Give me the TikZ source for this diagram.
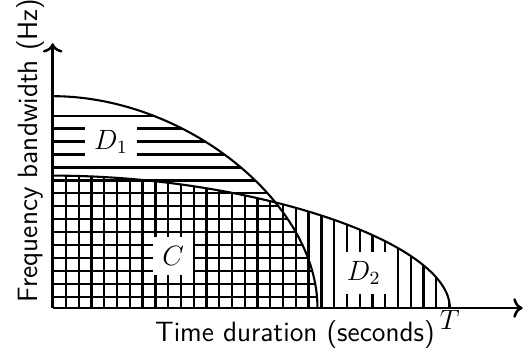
\documentclass[tikz,border=0pt]{standalone}
\usepackage{tikz}
\usetikzlibrary{arrows.meta, positioning}
\tikzset{
  font=\fontsize{12}{14.4}\selectfont,
  %
  axis/.style={line width=1.1pt, ->},
  bound/.style={line width=0.9pt},
  hatch/.style={line width=1pt},
  %
  region/.style={fill=white, inner sep=4pt},
  axislbl/.style={font=\fontsize{12}{14.4}\selectfont\sffamily},
}

\begin{document}
\begin{tikzpicture}[x=1cm, y=1cm]
\useasboundingbox (-0.796,-0.604) rectangle (7.12,4.653);

\def\aone{4}  \def\bone{3.2}
\def\atwo{6}  \def\btwo{2}

\coordinate (O) at (0,0);
\coordinate (ytop) at (0,4);
\coordinate (xend) at (7.1,0);
\coordinate (p1) at (0,\bone);
\coordinate (q1) at (\aone,0);
\coordinate (p2) at (0,\btwo);
\coordinate (q2) at (\atwo,0);

% horizontal hatching below the first bound
\begin{scope}
  \clip (O) -- (p1) .. controls (\aone/2,\bone) and (\aone,\bone/2) .. (q1) -- cycle;
  \foreach \i in {0,...,14}
    \draw[hatch] (0,{0.171+0.1953*\i}) -- ++(\aone,0);
\end{scope}

% vertical hatching below the second bound
\begin{scope}
  \clip (O) -- (p2) .. controls (\atwo/2,\btwo) and (\atwo,\btwo/2) .. (q2) -- cycle;
  \foreach \i in {0,...,30}
    \draw[hatch] ({0.201+0.1929*\i},0) -- ++(0,\btwo);
\end{scope}

\draw[bound] (p1) .. controls (\aone/2,\bone) and (\aone,\bone/2) .. (q1);
\draw[bound] (p2) .. controls (\atwo/2,\btwo) and (\atwo,\btwo/2) .. (q2);

\draw[axis] (O) -- (ytop);
\draw[axis] (O) -- (xend);

\node[region] (d1) at (0.88,2.51) {$D_1$};
\node[region] (c) at (1.82,0.79) {$C$};
\node[region] (d2) at (4.70,0.53) {$D_2$};
\node[below, inner sep=1pt] (t) at (q2) {$T$};

\node[axislbl, anchor=base] (xlab) at (3.66,-0.50) {Time duration (seconds)};
\node[axislbl, rotate=90, anchor=base] (ylab) at (-0.222,2.38) {Frequency bandwidth (Hz)};

\end{tikzpicture}
\end{document}
